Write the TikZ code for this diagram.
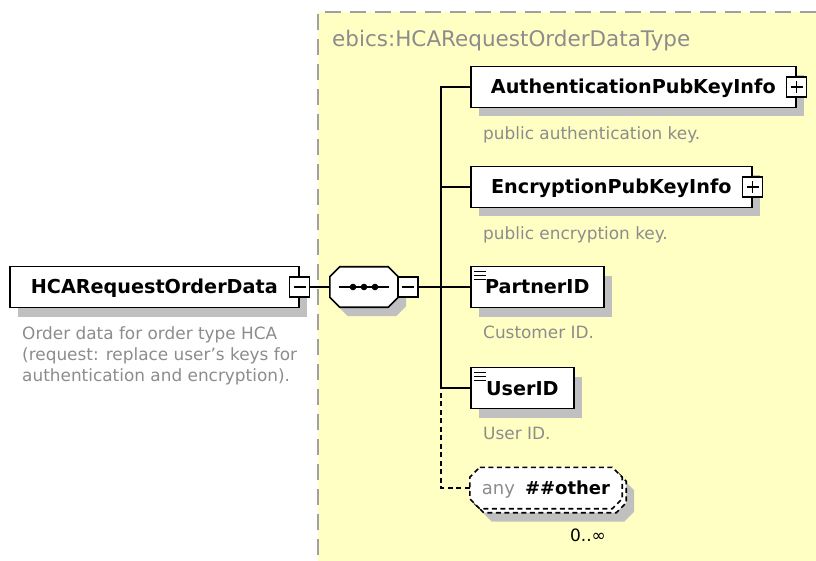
\documentclass[tikz,border=0pt]{standalone}
\usepackage{fontspec}
\setmainfont{DejaVu Sans}
\usetikzlibrary{shadows}
\definecolor{xsd-yellow}{HTML}{FFFFC4}
\definecolor{xsd-frame}{HTML}{A0A0A0}
\definecolor{xsd-shadow}{HTML}{C0C0C0}
\definecolor{xsd-doc}{HTML}{8C8C8C}
\colorlet{xsd-title}{xsd-doc}
\tikzset{
  xsd-line/.style={line width=1.6pt},
  xsd-dash/.style={xsd-line, dash pattern=on 5pt off 3.5pt},
  xsd-offset/.style={transform canvas={xshift=8pt, yshift=-9pt}},
  xsd-shade/.style={drop shadow={shadow xshift=8pt, shadow yshift=-9pt, fill=xsd-shadow, opacity=1}},
  elem-box/.style={draw, xsd-line, fill=white, xsd-shade, anchor=west, inner sep=0pt,
    minimum width=#1, minimum height=41pt, text height=14pt, text depth=0pt,
    font=\fontsize{19.2}{23}\selectfont\bfseries},
  simple-elem/.style={elem-box=#1, path picture={
    \foreach \dy in {5,9,13}
      \draw[line width=1.2pt] ([xshift=3pt,yshift=-\dy pt]path picture bounding box.north west) -- ++(12pt,0pt);
  }},
  expand-box/.style={draw, xsd-line, fill=white, minimum size=20pt, inner sep=0pt},
  minus-box/.style={expand-box, path picture={
    \draw[xsd-line] ([xshift=4pt]path picture bounding box.west) -- ([xshift=-4pt]path picture bounding box.east);
  }},
  plus-box/.style={expand-box, path picture={
    \draw[xsd-line] ([xshift=4pt]path picture bounding box.west) -- ([xshift=-4pt]path picture bounding box.east);
    \draw[xsd-line] ([yshift=-4pt]path picture bounding box.north) -- ([yshift=4pt]path picture bounding box.south);
  }},
  octo-frame/.style={inner sep=0pt, minimum width=#1, minimum height=41pt},
  any-text/.style={inner sep=0pt, font=\fontsize{18}{22}\selectfont, text height=13pt, text depth=0pt},
  doc-text/.style={anchor=west, inner sep=0pt, text=xsd-doc, text height=12.3pt, text depth=0pt,
    font=\fontsize{16.9}{21}\selectfont},
}
% octagon round a named node
\newcommand{\xsdocto}[2][]{%
\path[#1] ([xshift=10pt]#2.north west) -- ([xshift=-10pt]#2.north east) -- ([yshift=-10pt]#2.north east)
  -- ([yshift=10pt]#2.south east) -- ([xshift=-10pt]#2.south east) -- ([xshift=10pt]#2.south west)
  -- ([yshift=10pt]#2.south west) -- ([yshift=-10pt]#2.north west) -- cycle;
}
\begin{document}
\begin{tikzpicture}[x=1pt, y=-1pt]
\useasboundingbox (0,0) rectangle (816,561);
% complex type frame
\fill[xsd-yellow] (318,12) rectangle (830,580);
\draw[xsd-frame, line width=2.5pt, dash pattern=on 16pt off 9pt] (318,580) -- (318,12) -- (830,12);
\node[anchor=west, inner sep=0pt, text=xsd-title, font=\fontsize{21.5}{26}\selectfont,
  text height=15.5pt, text depth=0pt] (type-name) at (332,39) {ebics:HCARequestOrderDataType};

% root element
\node[elem-box=289pt] (hca) at (9,287) {HCARequestOrderData};
\node[minus-box] (hca-minus) at (hca.east) {};
\node[anchor=north west, inner sep=0pt, align=left, text=xsd-doc, font=\fontsize{16.9}{21}\selectfont]
  (hca-doc) at (22,326) {Order data for order type HCA\\(request: replace user's keys for\\authentication and encryption).};

% sequence
\node[octo-frame=68pt, minimum height=40pt] (seq) at (364,287) {};
\xsdocto[fill=xsd-shadow, xsd-offset]{seq}
\xsdocto[draw, xsd-line, fill=white]{seq}
\draw[xsd-line] ([xshift=9pt]seq.west) -- ([xshift=-9pt]seq.east);
\foreach \dx in {-11,0,11}
  \fill ([xshift=\dx pt]seq.center) circle (3.3pt);
\node[minus-box] (seq-minus) at (408,287) {};
\coordinate (fork) at (441,287);

% children
\node[elem-box=325pt] (auth) at (470,87) {AuthenticationPubKeyInfo};
\node[plus-box] (auth-plus) at (auth.east) {};
\node[doc-text] (auth-doc) at (483,133) {public authentication key.};

\node[elem-box=281pt] (enc) at (470,187) {EncryptionPubKeyInfo};
\node[plus-box] (enc-plus) at (enc.east) {};
\node[doc-text] (enc-doc) at (483,233) {public encryption key.};

\node[simple-elem=133pt] (partner) at (470,287) {PartnerID};
\node[doc-text] (partner-doc) at (483,332) {Customer ID.};

\node[simple-elem=103pt] (user) at (470,388) {UserID};
\node[doc-text] (user-doc) at (483,433) {User ID.};

% wildcard, shown twice for 0..unbounded
\node[octo-frame=152pt] (any-back) at (550,492) {};
\xsdocto[fill=xsd-shadow, xsd-offset]{any-back}
\xsdocto[draw, xsd-dash, fill=white]{any-back}
\node[octo-frame=152pt] (any-front) at (546,488) {};
\xsdocto[draw, xsd-dash, fill=white]{any-front}
\node[any-text] (any) at (any-front) {\textcolor{xsd-doc}{any}\hspace{10pt}\textbf{\#\#other}};
\node[any-text, font=\fontsize{17}{20}\selectfont, text height=12.4pt] (any-occurs) at (588,535) {0..∞};

% connectors
\draw[xsd-line] (hca-minus) -- (seq);
\draw[xsd-line] (seq-minus) -- (partner);
\draw[xsd-line] (auth.west) -| (fork) |- (user.west);
\draw[xsd-line] (enc.west) -- (enc.west -| fork);
\draw[xsd-dash] (any-front.west) -| (user.west -| fork);
\end{tikzpicture}
\end{document}
